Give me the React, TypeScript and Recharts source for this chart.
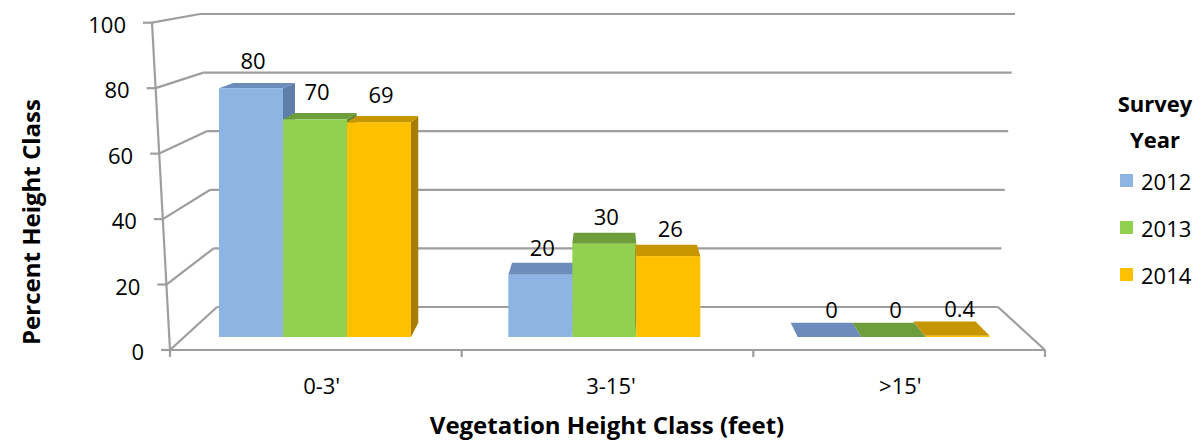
import { BarChart, Bar, XAxis, YAxis, CartesianGrid, Legend, LabelList, Label } from "recharts";

const categories = ["0-3'", "3-15'", ">15'"];
const years = ["2012", "2013", "2014"];
const values2012 = [80, 20, 0];
const values2013 = [70, 30, 0];
const values2014 = [69, 26, 0.4];
const yTicks = [0, 20, 40, 60, 80, 100];

const data = categories.map((c, i) => ({
    cat: c,
    y2012: values2012[i],
    y2013: values2013[i],
    y2014: values2014[i],
}));

const colors = [
    { front: "#8DB4E3", top: "#6C8DBC", side: "#5F7EA8" },
    { front: "#92D050", top: "#6E9E3B", side: "#5E8A30" },
    { front: "#FFC000", top: "#C69500", side: "#A67D00" },
];

const FONT = "'Open Sans', sans-serif";
const GRID = "#9E9E9E";

// plot area (bar plane)
const PLOT_TOP = 26;
const PLOT_BOTTOM = 337;
const PLOT_LEFT = 170;
const PLOT_RIGHT = 1038;

// 3d walls
const FRONT_BOTTOM = 350;
const FRONT_TOP = 22.7;
const FRONT_X0 = 170;
const FRONT_X100 = 152;
const BACK_BOTTOM = 307;
const BACK_TOP = 14;
const BACK_L0 = 217;
const BACK_L100 = 200;
const BACK_R0 = 998;
const BACK_R100 = 1015;
const FLOOR_RIGHT = 1045;

const VP = { x: 607.5, y: -50 };
const DEPTH = 0.037;

const lerp = (a: number, b: number, f: number) => a + (b - a) * f;
const frac = (y: number) => (PLOT_BOTTOM - y) / (PLOT_BOTTOM - PLOT_TOP);
const back = (px: number, py: number) => [px + DEPTH * (VP.x - px), py + DEPTH * (VP.y - py)];
const pts = (arr: number[][]) => arr.map((p) => p.join(",")).join(" ");

const GridLine = (props: any) => {
    const f = frac(props.y1);
    const fy = lerp(FRONT_BOTTOM, FRONT_TOP, f);
    const fx = lerp(FRONT_X0, FRONT_X100, f);
    const by = lerp(BACK_BOTTOM, BACK_TOP, f);
    const bl = lerp(BACK_L0, BACK_L100, f);
    const br = lerp(BACK_R0, BACK_R100, f);
    const isFloor = Math.abs(f) < 0.001;
    const n = categories.length;
    return (
        <g key={props.key}>
            <line x1={bl} y1={by} x2={br} y2={by} stroke={GRID} strokeWidth={2.2} />
            <line x1={fx} y1={fy} x2={bl} y2={by} stroke={GRID} strokeWidth={2.2} />
            <line x1={fx - 9} y1={fy} x2={fx} y2={fy} stroke={GRID} strokeWidth={2.2} />
            {isFloor && (
                <g>
                    <line x1={FRONT_X0} y1={FRONT_BOTTOM} x2={FLOOR_RIGHT} y2={FRONT_BOTTOM} stroke={GRID} strokeWidth={2.2} />
                    <line x1={FLOOR_RIGHT} y1={FRONT_BOTTOM} x2={br} y2={by} stroke={GRID} strokeWidth={2.2} />
                    <line x1={FRONT_X0} y1={FRONT_BOTTOM} x2={FRONT_X100} y2={FRONT_TOP} stroke={GRID} strokeWidth={2.2} />
                    {Array.from({ length: n + 1 }).map((_, i) => {
                        const tx = FRONT_X0 + (i * (FLOOR_RIGHT - FRONT_X0)) / n;
                        return <line key={i} x1={tx} y1={FRONT_BOTTOM} x2={tx} y2={FRONT_BOTTOM + 7} stroke={GRID} strokeWidth={2.2} />;
                    })}
                </g>
            )}
        </g>
    );
};

const YTick = (props: any) => {
    const f = frac(props.y);
    const fy = lerp(FRONT_BOTTOM, FRONT_TOP, f);
    const fx = lerp(FRONT_X0, FRONT_X100, f);
    return (
        <text x={fx - 26} y={fy + 1} textAnchor="end" dominantBaseline="central" fontSize={22} fontFamily={FONT} fill="#000">
            {props.payload.value}
        </text>
    );
};

const XTick = (props: any) => (
    <text x={props.x + 7} y={385} textAnchor="middle" dominantBaseline="central" fontSize={22} fontFamily={FONT} fill="#000">
        {props.payload.value}
    </text>
);

const Bar3D = (props: any) => {
    const { x, y, width, height, c } = props;
    if (x == null || y == null) return null;
    const h = Math.max(0, height || 0);
    const tl = [x, y];
    const tr = [x + width, y];
    const bl = [x, y + h];
    const br = [x + width, y + h];
    const btl = back(tl[0], tl[1]);
    const btr = back(tr[0], tr[1]);
    const bbl = back(bl[0], bl[1]);
    const bbr = back(br[0], br[1]);
    let side = null;
    if (VP.x > x + width) side = pts([tr, btr, bbr, br]);
    else if (VP.x < x) side = pts([tl, btl, bbl, bl]);
    return (
        <g>
            {side && h > 0 && <polygon points={side} fill={c.side} />}
            <polygon points={pts([tl, tr, btr, btl])} fill={c.top} />
            {h > 0 && <rect x={x} y={y} width={width} height={h} fill={c.front} />}
        </g>
    );
};

const ValueLabel = (props: any) => {
    const { x, y, width, value } = props;
    return (
        <text x={x + width / 2 + 2} y={y - 28} textAnchor="middle" dominantBaseline="central" fontSize={22} fontFamily={FONT} fill="#000">
            {value}
        </text>
    );
};

const LegendBox = (props: any) => (
    <div style={{ fontFamily: FONT, width: 110 }}>
        <div style={{ fontWeight: "bold", fontSize: 22, lineHeight: "36px", textAlign: "center" }}>
            Survey
            <br />
            Year
        </div>
        {props.payload.map((e: any) => (
            <div key={e.value} style={{ height: 47, display: "flex", alignItems: "center" }}>
                <span style={{ display: "inline-block", width: 13, height: 13, background: e.color, marginLeft: 20, marginRight: 8 }} />
                <span style={{ fontSize: 22 }}>{e.value}</span>
            </div>
        ))}
    </div>
);

const App = () => {
    const keys = ["y2012", "y2013", "y2014"];
    return (
        <div style={{ position: "absolute", left: 0, top: 0, background: "#fff" }}>
            <BarChart
                width={1203}
                height={441}
                data={data}
                barGap={0}
                barSize={64}
                margin={{ top: PLOT_TOP, bottom: 441 - PLOT_BOTTOM - 30, left: PLOT_LEFT - 60, right: 1203 - PLOT_RIGHT }}
                style={{ fontFamily: FONT }}
            >
                <CartesianGrid vertical={false} horizontal={(p: any) => <GridLine {...p} />} stroke={GRID} />
                <XAxis dataKey="cat" height={30} axisLine={false} tickLine={false} tick={<XTick />} interval={0}>
                    <Label
                        content={() => (
                            <text x={607} y={424} textAnchor="middle" dominantBaseline="central" fontSize={24} fontWeight="bold" fontFamily={FONT}>
                                Vegetation Height Class (feet)
                            </text>
                        )}
                    />
                </XAxis>
                <YAxis width={60} domain={[0, 100]} ticks={yTicks} axisLine={false} tickLine={false} tick={<YTick />} interval={0}>
                    <Label
                        content={() => (
                            <text x={30} y={222} transform="rotate(-90 30 222)" textAnchor="middle" dominantBaseline="central" fontSize={24} fontWeight="bold" fontFamily={FONT}>
                                Percent Height Class
                            </text>
                        )}
                    />
                </YAxis>
                <Legend layout="vertical" align="center" verticalAlign="middle" content={<LegendBox />} wrapperStyle={{ left: 1100, top: 85, width: 110 }} />
                {keys.map((k, i) => (
                    <Bar
                        key={k}
                        dataKey={k}
                        name={years[i]}
                        fill={colors[i].front}
                        isAnimationActive={false}
                        shape={(p: any) => <Bar3D {...p} c={colors[i]} />}
                    >
                        <LabelList dataKey={k} content={<ValueLabel />} />
                    </Bar>
                ))}
            </BarChart>
        </div>
    );
};

export default App;
